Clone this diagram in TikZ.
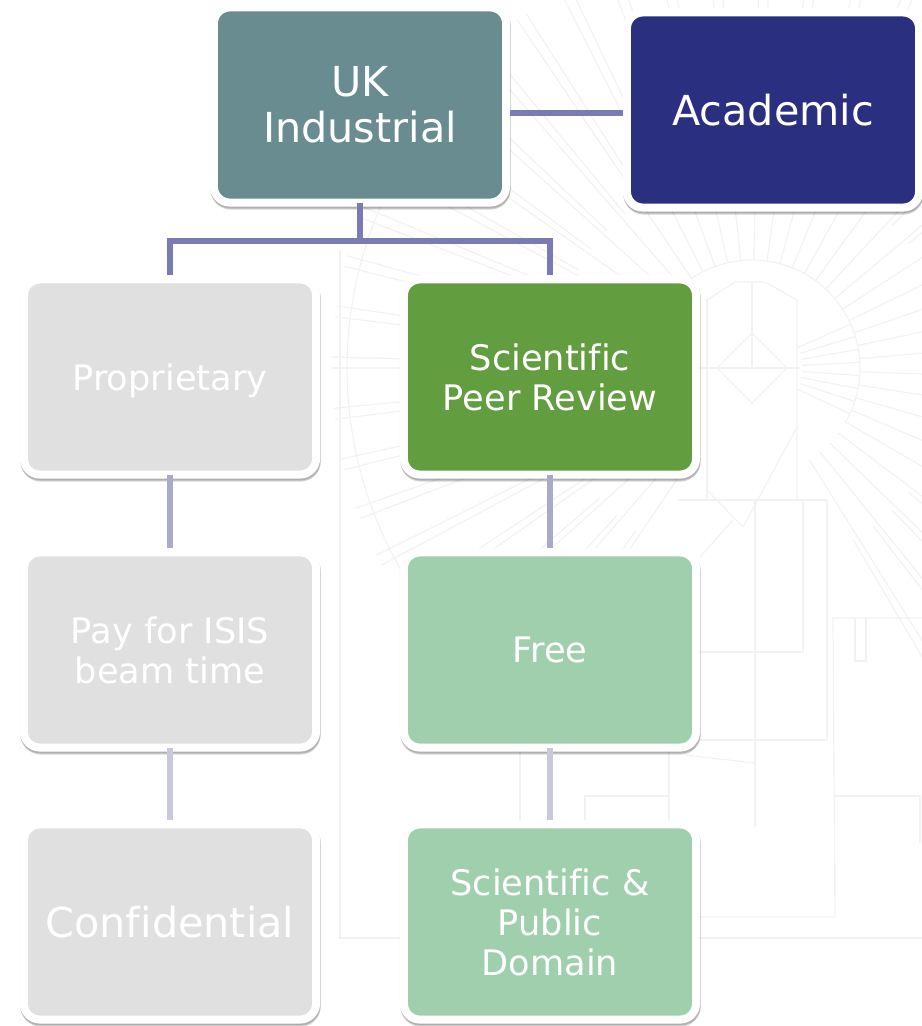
\documentclass[tikz,border=0pt]{standalone}
\usepackage{fontspec}
\setmainfont[Ligatures=NoCommon]{DejaVu Sans}
\usetikzlibrary{positioning,shadows}
\definecolor{tealbox}{HTML}{698C90}
\definecolor{navybox}{HTML}{2B2F7F}
\definecolor{greenbox}{HTML}{629D40}
\definecolor{palebox}{HTML}{A0CFAE}
\definecolor{greybox}{HTML}{E0E0E0}
\definecolor{linkdark}{HTML}{7A7AB4}
\definecolor{linkmid}{HTML}{A9A9CA}
\definecolor{linkpale}{HTML}{C9C9DC}
\definecolor{plan}{HTML}{F2F2F3}
\tikzset{
  softedge/.style n args={3}{drop shadow={shadow xshift=#1, shadow yshift=#2, fill=black, draw=black, line width=0.08cm, opacity=#3}},
  card/.style={draw=white, line width=0.08cm, rounded corners=0.16cm, text=white, align=center,
    minimum width=2.92cm, minimum height=1.95cm, inner sep=0pt,
    softedge={0cm}{-0.012cm}{0.05}, softedge={0.006cm}{-0.02cm}{0.14}, softedge={0.006cm}{-0.03cm}{0.16}},
  bigtext/.style={font=\fontsize{11.75}{13}\selectfont},
  smalltext/.style={font=\fontsize{10}{11.4}\selectfont},
  link/.style={line width=0.055cm, shorten <=-0.04cm},
  planline/.style={draw=plan, line width=0.012cm}
}
\begin{document}
\begin{tikzpicture}[x=0.01cm,y=-0.01cm]
\useasboundingbox (0,0) rectangle (922,1026);
% faint plan behind the chart
\foreach \a in {-180,-173,...,58,124,131,...,180}
\draw[planline] (752,368) ++(\a:108) -- ++(\a:312) (752,368) ++(\a+1.5:200) -- ++(\a+1.5:220);
\foreach \a in {-24,-17,...,25}
\draw[planline] (752,368) ++(\a:50) -- ++(\a:58);
\draw[planline] (752,368) ++(-220:108) arc (-220:30:108);
\draw[planline] (752,368) ++(150:405) arc (150:210:405);
\draw[planline] (340,250) -- (340,938) -- (922,938);
\draw[planline] (707,300) -- (735,282) -- (765,282) -- (797,300) -- (797,500);
\draw[planline] (707,300) -- (707,500) (678,500) -- (827,500);
\draw[planline] (700,368) -- (800,368) (752,282) -- (752,368);
\draw[planline] (752,333) -- (787,368) -- (752,403) -- (717,368) -- cycle;
\draw[planline] (700,557) -- (733,520) (707,490) -- (743,527) -- (797,427);
\draw[planline] (755,500) -- (755,827);
\draw[planline] (803,500) -- (803,652) -- (700,652);
\draw[planline] (827,500) -- (827,740) -- (700,740);
\draw[planline] (922,618) -- (833,618) -- (835,917) -- (700,917);
\draw[planline] (855,618) -- (855,661) -- (866,661) -- (866,618);
\draw[planline] (835,796) -- (920,796) -- (920,843);
\draw[planline] (520,750) -- (520,821) (669,750) -- (669,821);
\draw[planline] (585,821) -- (585,796) -- (669,796);
\draw[planline] (685,755) -- (755,763);
% chart
\node[card, bigtext, fill=tealbox] (uk) at (360,105) {UK\\Industrial};
\node[card, bigtext, fill=navybox] (academic) at (773,110) {Academic};
\node[card, smalltext, fill=greybox, text depth=0pt] (proprietary) at (170,377) {Proprietary};
\node[card, smalltext, fill=greybox] (pay) at (170,650) {Pay for ISIS\\beam time};
\node[card, bigtext, fill=greybox] (confidential) at (170,922) {Confidential};
\node[card, smalltext, fill=greenbox] (peer) at (550,377) {Scientific\\Peer Review};
\node[card, smalltext, fill=palebox] (free) at (550,650) {Free};
\node[card, smalltext, fill=palebox] (public) at (550,922) {Scientific \&\\Public\\Domain};
\coordinate (bus) at (360,241);
\coordinate (tie) at (570,113);
\draw[link, linkdark, shorten <=0pt] (uk.east |- tie) -- (academic.west |- tie);
\draw[link, linkdark] (uk.south) -- (bus) -| (proprietary.north);
\draw[link, linkdark] (uk.south) -- (bus) -| (peer.north);
\draw[link, linkmid] (proprietary) -- (pay);
\draw[link, linkmid] (peer) -- (free);
\draw[link, linkpale] (pay) -- (confidential);
\draw[link, linkpale] (free) -- (public);
\end{tikzpicture}
\end{document}
